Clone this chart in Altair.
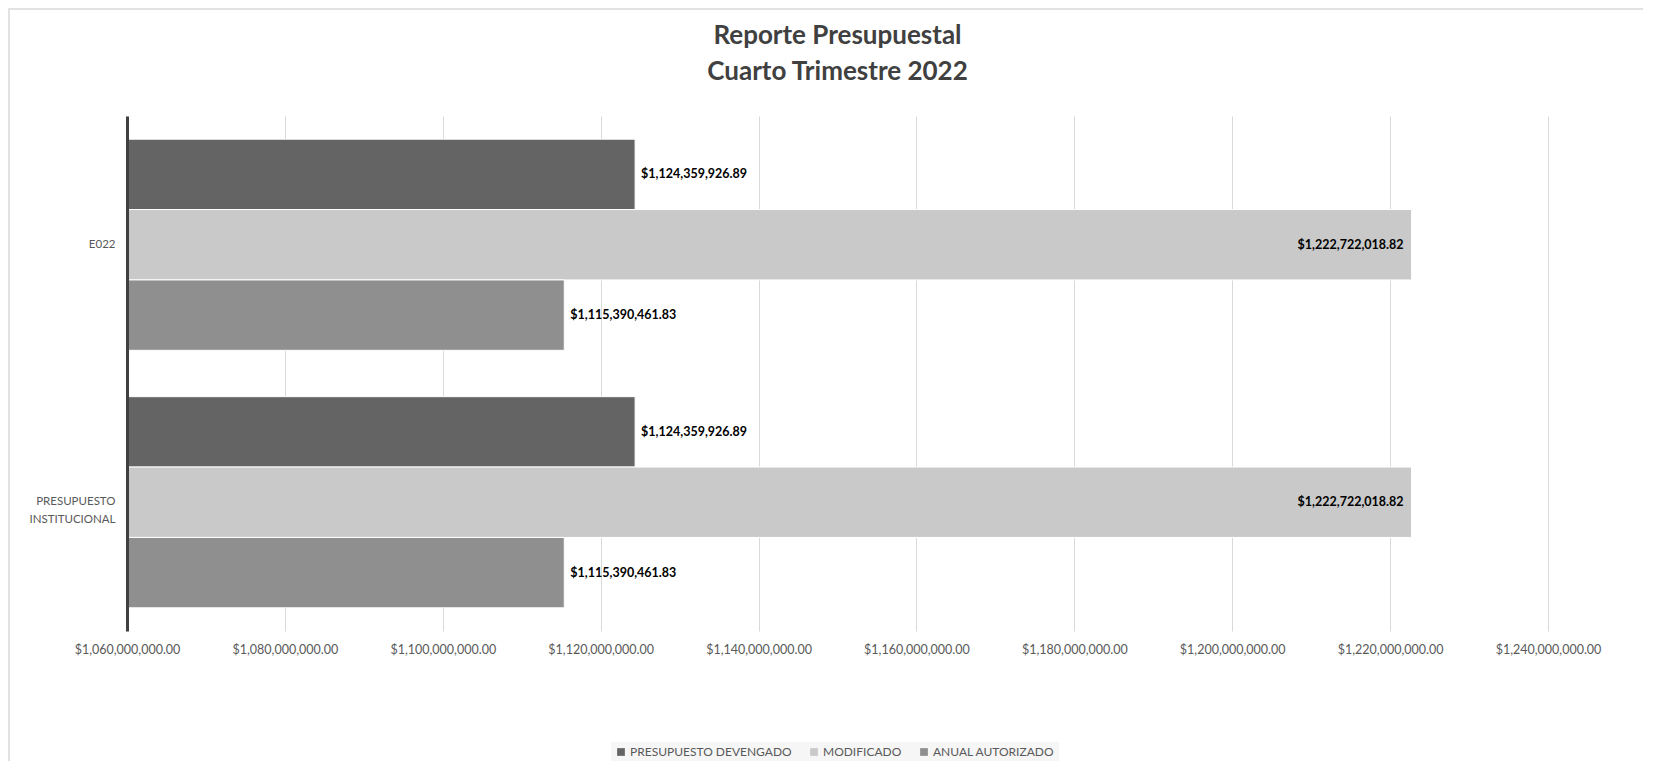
import altair as alt
import pandas as pd

categories = ["E022", "PRESUPUESTO INSTITUCIONAL"]
series = ["PRESUPUESTO DEVENGADO", "MODIFICADO", "ANUAL AUTORIZADO"]
devengado = [1124359926.89, 1124359926.89]
modificado = [1222722018.82, 1222722018.82]
anual_autorizado = [1115390461.83, 1115390461.83]
x_ticks = [1060000000, 1080000000, 1100000000, 1120000000, 1140000000,
           1160000000, 1180000000, 1200000000, 1220000000, 1240000000]
colors = ["#646464", "#c9c9c9", "#8f8f8f"]

rows = []
for i, c in enumerate(categories):
    for s, vals in zip(series, [devengado, modificado, anual_autorizado]):
        rows.append({"categoria": c, "serie": s, "valor": vals[i]})
df = pd.DataFrame(rows)

W, H = 1421, 515
PL, PT, PR, PB = 119, 108, 95, 130
FONT = "Lato"

x_enc = alt.X("valor:Q",
              scale=alt.Scale(domain=[x_ticks[0], x_ticks[-1]], zero=False, nice=False),
              axis=alt.Axis(values=x_ticks, format="$,.2f", title=None, domain=False,
                            ticks=False, grid=True, gridColor="#d9d9d9", gridWidth=1,
                            labelFont=FONT, labelFontSize=12.5, labelColor="#595959",
                            labelPadding=12, labelFlush=False, labelOverlap=False))
y_enc = alt.Y("categoria:N", sort=categories,
              scale=alt.Scale(paddingInner=0.18, paddingOuter=0.09),
              axis=alt.Axis(title=None, domain=True, domainColor="#404040", domainWidth=3,
                            ticks=False, labelFont=FONT, labelFontSize=11.5,
                            labelColor="#595959", labelPadding=12, labelLineHeight=18,
                            labelExpr="split(datum.label, ' ')", labelLimit=200,
                            zindex=1))
yoff = alt.YOffset("serie:N", sort=series, scale=alt.Scale(paddingInner=0, paddingOuter=0))

bars = alt.Chart(df).mark_bar(stroke="white", strokeWidth=1, clip=True).encode(
    x=x_enc, y=y_enc, yOffset=yoff,
    color=alt.Color("serie:N", sort=series,
                    scale=alt.Scale(domain=series, range=colors),
                    legend=alt.Legend(title=None, orient="none", direction="horizontal",
                                      legendX=484, legendY=626, symbolType="square",
                                      symbolSize=60, symbolStrokeWidth=0,
                                      labelFont=FONT, labelFontSize=12, labelLimit=400,
                                      labelColor="#595959", columnPadding=16,
                                      fillColor="#f6f6f6", padding=4, labelOffset=3)),
)

text_out = alt.Chart(df).transform_filter(alt.datum.serie != "MODIFICADO").mark_text(
    align="left", baseline="middle", dx=6, font=FONT, fontWeight="bold",
    fontSize=12.5, color="#000000"
).encode(x="valor:Q", y=alt.Y("categoria:N", sort=categories), yOffset=yoff,
         text=alt.Text("valor:Q", format="$,.2f"))

text_in = alt.Chart(df).transform_filter(alt.datum.serie == "MODIFICADO").mark_text(
    align="right", baseline="middle", dx=-8, font=FONT, fontWeight="bold",
    fontSize=12.5, color="#000000"
).encode(x="valor:Q", y=alt.Y("categoria:N", sort=categories), yOffset=yoff,
         text=alt.Text("valor:Q", format="$,.2f"))

frame = alt.Chart(pd.DataFrame({"a": [0]})).mark_rect(
    fill=None, stroke="#d9d9d9", strokeWidth=1.5, clip=False
).encode(x=alt.value(-PL + 1), x2=alt.value(W + PR + 20),
         y=alt.value(-PT + 1), y2=alt.value(H + PB + 20))

chart = alt.layer(frame, bars, text_out, text_in).properties(
    width=W, height=H,
    title=alt.TitleParams(["Reporte Presupuestal", "Cuarto Trimestre 2022"],
                          anchor="middle", frame="group", font=FONT, fontSize=26,
                          fontWeight="bold", color="#404040", lineHeight=36,
                          offset=34, dy=111),
    autosize=alt.AutoSizeParams(type="none"),
    padding={"left": PL, "top": PT, "right": PR, "bottom": PB},
).configure_view(stroke=None)

chart.save("out.html", embed_options={"renderer": "svg", "actions": False})
